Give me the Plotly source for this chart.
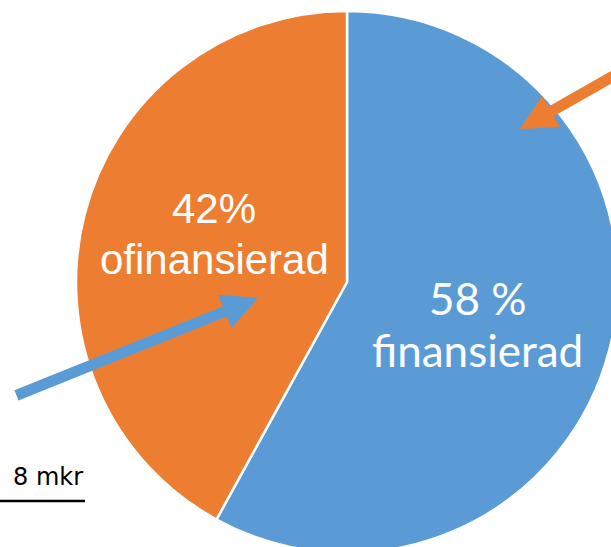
import plotly.graph_objects as go

# ---- data ----
labels = ["finansierad", "ofinansierad"]
values = [58, 42]
colors = ["#5B9BD5", "#ED7D31"]
label_lines = {
    "finansierad": ["58 %", "finansierad"],
    "ofinansierad": ["42%", "ofinansierad"],
}
total_text = "8 mkr"

# ---- layout geometry (pixels) ----
W, H = 640, 600
ML, MT = 76, 11
PW = PH = 542
MR = W - ML - PW
MB = H - MT - PH


def px(x):
    return (x - ML) / PW


def py(y):
    return 1 - (y - MT) / PH


fig = go.Figure(
    go.Pie(
        labels=labels,
        values=values,
        marker=dict(colors=colors, line=dict(color="white", width=2.5)),
        textinfo="none",
        sort=False,
        direction="clockwise",
        rotation=0,
        hoverinfo="label+percent",
        showlegend=False,
    )
)

ann = []
fin = label_lines["finansierad"]
ofin = label_lines["ofinansierad"]
ann.append(dict(x=px(214), y=py(208), text=ofin[0], font=dict(family="Liberation Sans, Arial", size=42, color="white")))
ann.append(dict(x=px(214), y=py(259), text=ofin[1], font=dict(family="Liberation Sans, Arial", size=42, color="white")))
ann.append(dict(x=px(478), y=py(298), text=fin[0], font=dict(family="Lato", size=44, color="white")))
ann.append(dict(x=px(478), y=py(350), text=fin[1], font=dict(family="Lato", size=44, color="white")))
for a in ann:
    a.update(xref="paper", yref="paper", showarrow=False, xanchor="center", yanchor="middle")

# arrows
ann.append(dict(x=px(258), y=py(298), xref="paper", yref="paper", text="", showarrow=True,
                ax=15 - 258, ay=396 - 298, arrowhead=2, arrowwidth=11, arrowsize=0.65,
                arrowcolor="#5B9BD5", standoff=0))
ann.append(dict(x=px(520), y=py(129), xref="paper", yref="paper", text="", showarrow=True,
                ax=670 - 520, ay=61 - 129, arrowhead=2, arrowwidth=11, arrowsize=0.65,
                arrowcolor="#ED7D31", standoff=0))
# total text
ann.append(dict(x=px(85), y=py(477), xref="paper", yref="paper", text=total_text, showarrow=False,
                xanchor="right", yanchor="middle", font=dict(family="DejaVu Sans", size=24, color="black")))

fig.update_layout(
    width=W,
    height=H,
    margin=dict(l=ML, r=MR, t=MT, b=MB),
    paper_bgcolor="white",
    plot_bgcolor="white",
    annotations=ann,
    shapes=[dict(type="line", xref="paper", yref="paper", x0=px(-5), x1=px(85), y0=py(501), y1=py(501),
                 line=dict(color="black", width=2.5))],
)

fig.write_html(
    "out.html",
    config={"displayModeBar": False},
    post_script="document.body.style.margin='0';document.body.style.overflow='hidden';document.documentElement.style.overflow='hidden';",
)
